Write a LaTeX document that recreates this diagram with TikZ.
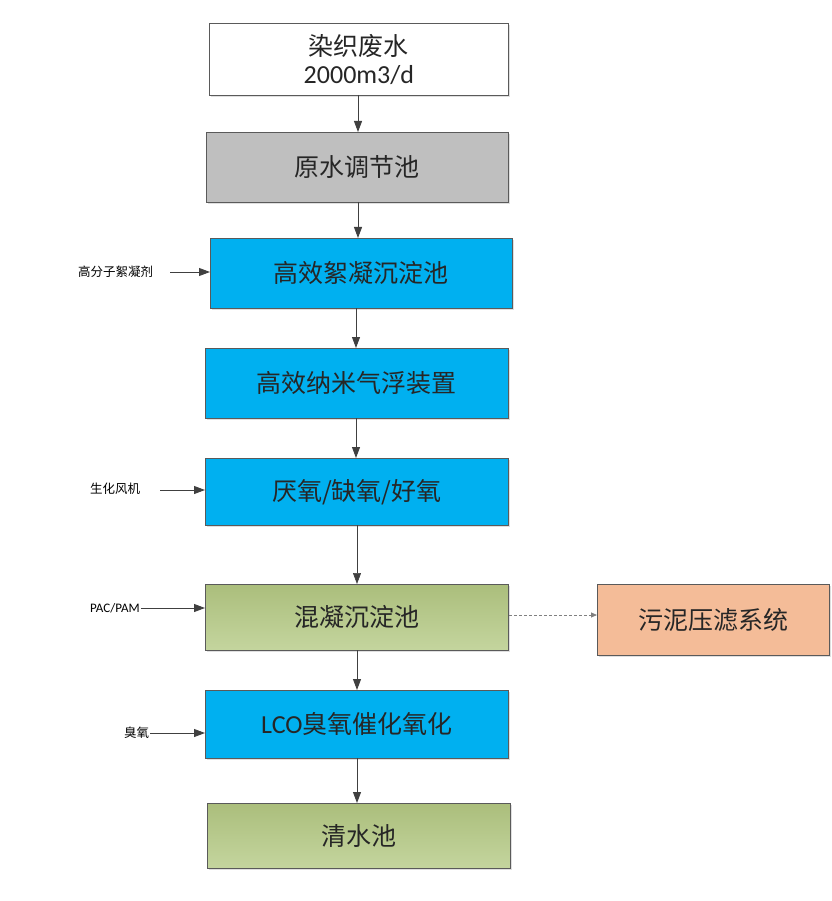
\documentclass[tikz,border=0pt]{standalone}
\usepackage{fontspec}
\setmainfont{Carlito}
\newfontfamily\cjk{Noto Sans CJK SC}
\usetikzlibrary{arrows.meta,shadows}
\definecolor{edge}{HTML}{5A5A5A}
\definecolor{arr}{HTML}{404040}
\definecolor{blu}{HTML}{00B0F0}
\definecolor{gry}{HTML}{BFBFBF}
\definecolor{grnT}{HTML}{ABBE7C}
\definecolor{grnB}{HTML}{C4D59E}
\definecolor{sal}{HTML}{F4BC98}
\definecolor{txt}{HTML}{262626}
\tikzset{
  x=1pt, y=-1pt,
  box/.style={draw=edge, line width=0.8pt, anchor=north west, inner sep=0pt,
    font=\fontsize{25}{29}\selectfont, text=txt, align=center,
    drop shadow={opacity=0.25, shadow xshift=2pt, shadow yshift=-2pt}},
  bluebox/.style={box, fill=blu},
  greenbox/.style={box, top color=grnT, bottom color=grnB},
  lab/.style={font=\cjk\fontsize{12.5}{14}\selectfont, text=black, inner sep=1pt},
  flow/.style={draw=arr, line width=0.9pt, -{Triangle[length=11pt,width=8pt]}},
}
\begin{document}
\begin{tikzpicture}
\useasboundingbox (0,0) rectangle (831,901);
\node[box, fill=white, minimum width=299pt, minimum height=72pt] (n1) at (209,23)
  {{\cjk 染织废水}\\[-1pt]{\fontsize{26}{29}\selectfont 2000m3/d}};
\node[box, fill=gry, minimum width=302pt, minimum height=70pt] (n2) at (206,132) {\cjk 原水调节池};
\node[bluebox, minimum width=302pt, minimum height=70pt] (n3) at (210,238) {\cjk 高效絮凝沉淀池};
\node[bluebox, minimum width=303pt, minimum height=70pt] (n4) at (205,348) {\cjk 高效纳米气浮装置};
\node[bluebox, minimum width=303pt, minimum height=67pt] (n5) at (205,458) {\cjk 厌氧/缺氧/好氧};
\node[greenbox, minimum width=303pt, minimum height=66pt] (n6) at (205,584) {\cjk 混凝沉淀池};
\node[box, fill=sal, minimum width=232pt, minimum height=71pt] (n7) at (597,584) {\cjk 污泥压滤系统};
\node[bluebox, minimum width=303pt, minimum height=68pt] (n8) at (205,690) {{\fontsize{26}{29}\selectfont LCO}{\cjk 臭氧催化氧化}};
\node[greenbox, minimum width=303pt, minimum height=65pt] (n9) at (207,803) {\cjk 清水池};

\coordinate (c1) at (358,95);
\coordinate (c2) at (358,202);
\coordinate (c3) at (356,308);
\coordinate (c4) at (356,418);
\coordinate (c5) at (357,525);
\coordinate (c6) at (357,650);
\coordinate (c8) at (357,758);
\draw[flow] (c1) -- (c1 |- n2.north);
\draw[flow] (c2) -- (c2 |- n3.north);
\draw[flow] (c3) -- (c3 |- n4.north);
\draw[flow] (c4) -- (c4 |- n5.north);
\draw[flow, line width=0.6pt] (c5) -- (c5 |- n6.north);
\draw[flow] (c6) -- (c6 |- n8.north);
\draw[flow] (c8) -- (c8 |- n9.north);

\draw[flow, densely dashed, draw=gray, line width=0.8pt, -{Triangle[length=6pt,width=5pt]}] (n6.east |- 0,615) -- (n7.west |- 0,615);

\node[lab, anchor=west] (l1) at (77,272) {高分子絮凝剂};
\coordinate (a1) at (170,272);
\draw[flow] (a1) -- (n3.west |- a1);
\node[lab, anchor=west] (l2) at (89,489) {生化风机};
\coordinate (a2) at (160,490);
\draw[flow] (a2) -- (n5.west |- a2);
\node[lab, anchor=west, font=\fontsize{13}{14}\selectfont] (l3) at (89,608) {PAC/PAM};
\draw[flow] (l3.east) -- (n6.west |- l3.east);
\node[lab, anchor=west] (l4) at (123,733) {臭氧};
\draw[flow] (l4.east) -- (n8.west |- l4.east);
\end{tikzpicture}
\end{document}
